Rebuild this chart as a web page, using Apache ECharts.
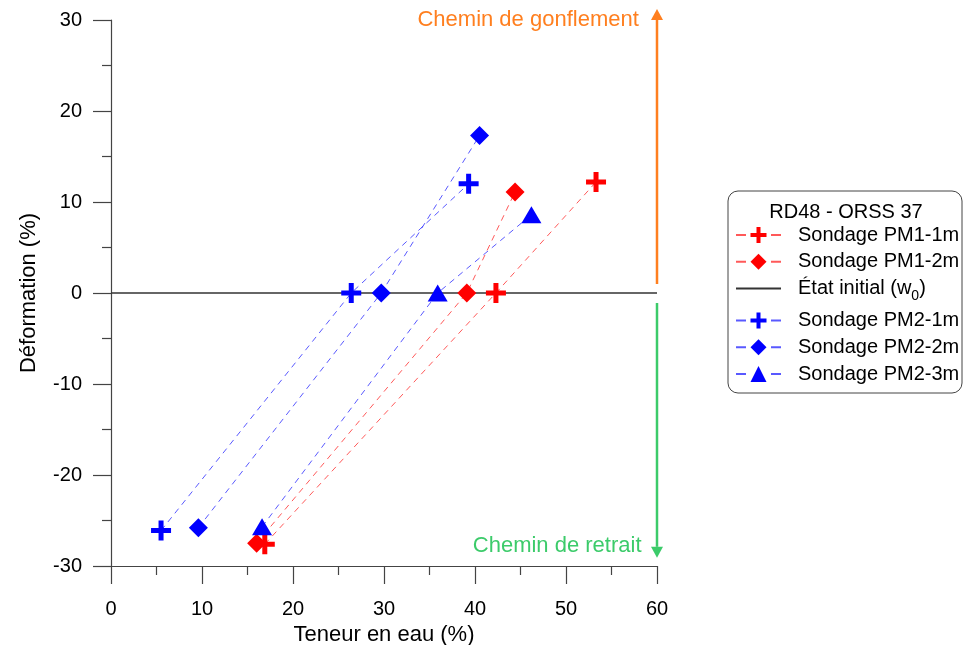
<!DOCTYPE html>
<html><head><meta charset="utf-8">
<script src="https://cdn.jsdelivr.net/npm/echarts@6/dist/echarts.min.js"></script>
<style>html,body{margin:0;padding:0;background:#fff}#c{width:965px;height:645px}</style>
</head><body><div id="c"></div>
<script>
// ---- data ----
const legendTitle = 'RD48 - ORSS 37';
const names = ['Sondage PM1-1m', 'Sondage PM1-2m', 'État initial (w0)', 'Sondage PM2-1m', 'Sondage PM2-2m', 'Sondage PM2-3m'];
const pm11_w = [16.9, 42.3, 53.3];
const pm11_d = [-27.6, 0, 12.2];
const pm12_w = [16.0, 39.1, 44.4];
const pm12_d = [-27.5, 0, 11.1];
const init_w = [0, 60];
const init_d = [0, 0];
const pm21_w = [5.5, 26.4, 39.3];
const pm21_d = [-26.1, 0, 12.0];
const pm22_w = [9.6, 29.7, 40.5];
const pm22_d = [-25.8, 0, 17.3];
const pm23_w = [16.6, 35.9, 46.2];
const pm23_d = [-25.7, 0, 8.6];
const xTicks = [0, 10, 20, 30, 40, 50, 60];
const yTicks = [-30, -20, -10, 0, 10, 20, 30];
const swellLabel = 'Chemin de gonflement';
const shrinkLabel = 'Chemin de retrait';
const swellArrow = [[60, 1.0], [60, 31.2]];
const shrinkArrow = [[60, -1.1], [60, -29.1]];
const swellText = [58.0, 30.0];
const shrinkText = [58.3, -27.8];

// ---- styling ----
const FONT = 'Liberation Sans, Arial, sans-serif';
const RED = '#ff0000', BLUE = '#0000ff';
const RED_L = 'rgba(255,0,0,0.65)', BLUE_L = 'rgba(0,0,255,0.65)';
const ORANGE = '#ff7f1f', GREEN = '#3ccb6a';
const PLUS = 'path://M7.5,0H12.5V7.5H20V12.5H12.5V20H7.5V12.5H0V7.5H7.5Z';
const zip = (a, b) => a.map((v, i) => [v, b[i]]);

function mk(name, w, d, color, lcolor, symbol, size) {
  return {
    name, type: 'line', data: zip(w, d), symbol, symbolSize: size,
    lineStyle: { color: lcolor, width: 1, type: [6, 5] },
    itemStyle: { color },
    showAllSymbol: true, animation: false, clip: false, z: 3
  };
}

const chart = echarts.init(document.getElementById('c'));
const series = [
  mk(names[0], pm11_w, pm11_d, RED, RED_L, PLUS, 20),
  mk(names[1], pm12_w, pm12_d, RED, RED_L, 'diamond', 19),
  { name: names[2], type: 'line', data: zip(init_w, init_d), symbol: 'none',
    lineStyle: { color: '#333', width: 1.5 }, itemStyle: { color: '#333' }, animation: false, z: 2 },
  mk(names[3], pm21_w, pm21_d, BLUE, BLUE_L, PLUS, 20),
  mk(names[4], pm22_w, pm22_d, BLUE, BLUE_L, 'diamond', 19),
  mk(names[5], pm23_w, pm23_d, BLUE, BLUE_L, 'triangle', [20, 17])
];

const axisCommon = {
  axisLine: { onZero: false, lineStyle: { color: '#444', width: 1.2 } },
  axisTick: { show: true, length: 18, lineStyle: { color: '#444', width: 1.2 } },
  minorTick: { show: true, splitNumber: 2, length: 9, lineStyle: { color: '#444', width: 1.2 } },
  splitLine: { show: false },
  nameLocation: 'middle',
  nameTextStyle: { fontFamily: FONT, fontSize: 22, color: '#000' }
};

chart.setOption({
  animation: false,
  backgroundColor: '#fff',
  grid: { left: 111, top: 20, right: 308, bottom: 79, containLabel: false, outerBoundsMode: 'none' },
  xAxis: Object.assign({}, axisCommon, {
    type: 'value', min: xTicks[0], max: xTicks[xTicks.length - 1], interval: 10,
    name: 'Teneur en eau (%)', nameGap: 51,
    axisLabel: { margin: 33, fontFamily: FONT, fontSize: 20, color: '#000' }
  }),
  yAxis: Object.assign({}, axisCommon, {
    type: 'value', min: yTicks[0], max: yTicks[yTicks.length - 1], interval: 10,
    name: 'Déformation (%)', nameGap: 71, nameRotate: 90,
    axisLabel: { margin: 29, fontFamily: FONT, fontSize: 20, color: '#000' }
  }),
  legend: {
    orient: 'vertical', left: 735, top: 225, padding: 0, itemGap: 6.8,
    itemWidth: 45, itemHeight: 20, selectedMode: false,
    data: names.map((n, i) => i === 2
      ? { name: n, itemStyle: { color: 'rgba(0,0,0,0)', borderWidth: 0, opacity: 0 } }
      : { name: n, lineStyle: { type: [10, 25] } }),
    formatter: n => n === names[2] ? 'État initial (w{sub|0})' : n,
    textStyle: {
      fontFamily: FONT, fontSize: 20, color: '#000', padding: [0, 0, 0, 12],
      rich: { sub: { fontFamily: FONT, fontSize: 14, color: '#000', verticalAlign: 'bottom', padding: [16, 0, 0, 0] } }
    }
  },
  series
});

function px(p) { return chart.convertToPixel({ gridIndex: 0 }, p); }
function arrow(a, color) {
  const s = px(a[0]), e = px(a[1]);
  const dir = e[1] < s[1] ? -1 : 1;
  const hl = 11, hw = 6;
  return [
    { type: 'line', shape: { x1: s[0], y1: s[1], x2: e[0], y2: e[1] - dir * hl }, style: { stroke: color, lineWidth: 2.5 }, z: 10 },
    { type: 'polygon', shape: { points: [[e[0], e[1]], [e[0] - hw, e[1] - dir * hl], [e[0] + hw, e[1] - dir * hl]] }, style: { fill: color }, z: 10 }
  ];
}
const st = px(swellText), sh = px(shrinkText);
chart.setOption({
  graphic: [
    { type: 'rect', shape: { x: 728, y: 191, width: 234, height: 202, r: 10 }, style: { fill: 'none', stroke: '#444', lineWidth: 1 }, z: 5 },
    { type: 'text', x: 846, y: 212, style: { text: legendTitle, font: '20px ' + FONT, fill: '#000', align: 'center', verticalAlign: 'middle' }, z: 5 },
    ...arrow(swellArrow, ORANGE),
    ...arrow(shrinkArrow, GREEN),
    { type: 'text', x: st[0], y: st[1], style: { text: swellLabel, font: '22px ' + FONT, fill: ORANGE, align: 'right', verticalAlign: 'middle' }, z: 10 },
    { type: 'text', x: sh[0], y: sh[1], style: { text: shrinkLabel, font: '22px ' + FONT, fill: GREEN, align: 'right', verticalAlign: 'middle' }, z: 10 }
  ]
});
</script></body></html>
